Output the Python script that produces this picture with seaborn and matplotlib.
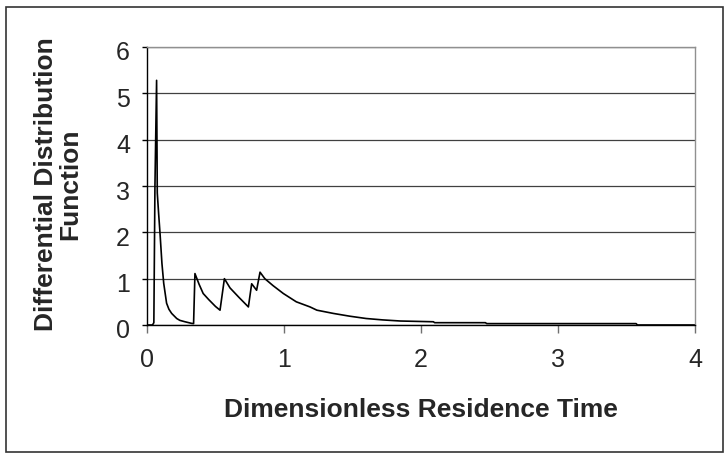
import matplotlib
matplotlib.use("Agg")
import matplotlib.pyplot as plt
import matplotlib.transforms as mtransforms
import seaborn as sns
import pandas as pd
from matplotlib.patches import Rectangle

# Data
residence_time = [0.0, 0.04, 0.046, 0.05, 0.058, 0.07, 0.075, 0.085, 0.095, 0.109,
                  0.122, 0.143, 0.16, 0.18, 0.217, 0.24, 0.277, 0.326, 0.34, 0.35,
                  0.38, 0.41, 0.45, 0.50, 0.533, 0.565, 0.606, 0.67, 0.74, 0.764,
                  0.80, 0.825, 0.86, 0.92, 0.995, 1.09, 1.19, 1.24, 1.36, 1.48,
                  1.60, 1.72, 1.85, 2.09, 2.10, 2.47, 2.48, 3.57, 3.58, 4.0]
distribution = [0.0, 0.0, 0.03, 0.05, 3.0, 5.28, 2.85, 2.4, 1.98, 1.33,
                0.9, 0.47, 0.34, 0.25, 0.14, 0.1, 0.07, 0.035, 0.03, 1.11,
                0.88, 0.68, 0.55, 0.40, 0.32, 1.0, 0.8, 0.6, 0.39, 0.89,
                0.75, 1.14, 1.0, 0.85, 0.68, 0.50, 0.39, 0.32, 0.25, 0.19,
                0.14, 0.11, 0.086, 0.07, 0.05, 0.05, 0.03, 0.03, 0.0, 0.0]
x_ticks = [0, 1, 2, 3, 4]
y_ticks = [0, 1, 2, 3, 4, 5, 6]

df = pd.DataFrame({"t": residence_time, "E": distribution})

sns.set_style("white")
plt.rcParams['font.family'] = ['Liberation Sans', 'DejaVu Sans']

W, H = 725, 453
fig = plt.figure(figsize=(W / 100, H / 100), dpi=100)
ax = fig.add_axes([147 / W, 1 - 325 / H, (695 - 147) / W, (325 - 47) / H])

sns.lineplot(data=df, x="t", y="E", ax=ax, color="black", linewidth=1.2,
             estimator=None, sort=False)

ax.set_xlim(0, 4)
ax.set_ylim(0, 6)
ax.set_xticks(x_ticks)
ax.set_yticks(y_ticks)
ax.set_xticklabels([str(v) for v in x_ticks])
ax.set_yticklabels([str(v) for v in y_ticks])

ax.yaxis.grid(True, color="#404040", linewidth=0.9)
ax.xaxis.grid(False)
ax.set_axisbelow(True)

for s in ["top", "right"]:
    ax.spines[s].set_color("#909090")
    ax.spines[s].set_linewidth(1.0)
for s in ["left", "bottom"]:
    ax.spines[s].set_color("black")
    ax.spines[s].set_linewidth(1.0)

ax.tick_params(axis="y", which="major", direction="out", length=3.6, width=1,
               color="black", labelsize=18, pad=8.6, left=True)
ax.tick_params(axis="x", which="major", direction="out", length=5.8, width=1,
               color="#707070", labelsize=18, pad=11, bottom=True)

# y tick labels sit slightly below their ticks in the reference
offset = mtransforms.ScaledTranslation(0, -4 / 100, fig.dpi_scale_trans)
for lab in ax.get_yticklabels():
    lab.set_transform(lab.get_transform() + offset)

ax.set_xlabel("Dimensionless Residence Time", fontsize=19, fontweight="bold")
ax.xaxis.label.set_va("center")
ax.xaxis.set_label_coords(0.5, (325 - 410) / 278)

ax.set_ylabel("Differential Distribution\nFunction", fontsize=19,
              fontweight="bold", linespacing=1.0)
ax.yaxis.label.set_va("center")
ax.yaxis.label.set_ha("center")
ax.yaxis.set_label_coords((58 - 147) / 548, 0.505)

fig.patches.append(Rectangle((6 / W, 1 - 452 / H), (723 - 6) / W, (452 - 7) / H,
                             transform=fig.transFigure, fill=False,
                             edgecolor="#333333", linewidth=1.2))

fig.savefig("out.png", dpi=100)
